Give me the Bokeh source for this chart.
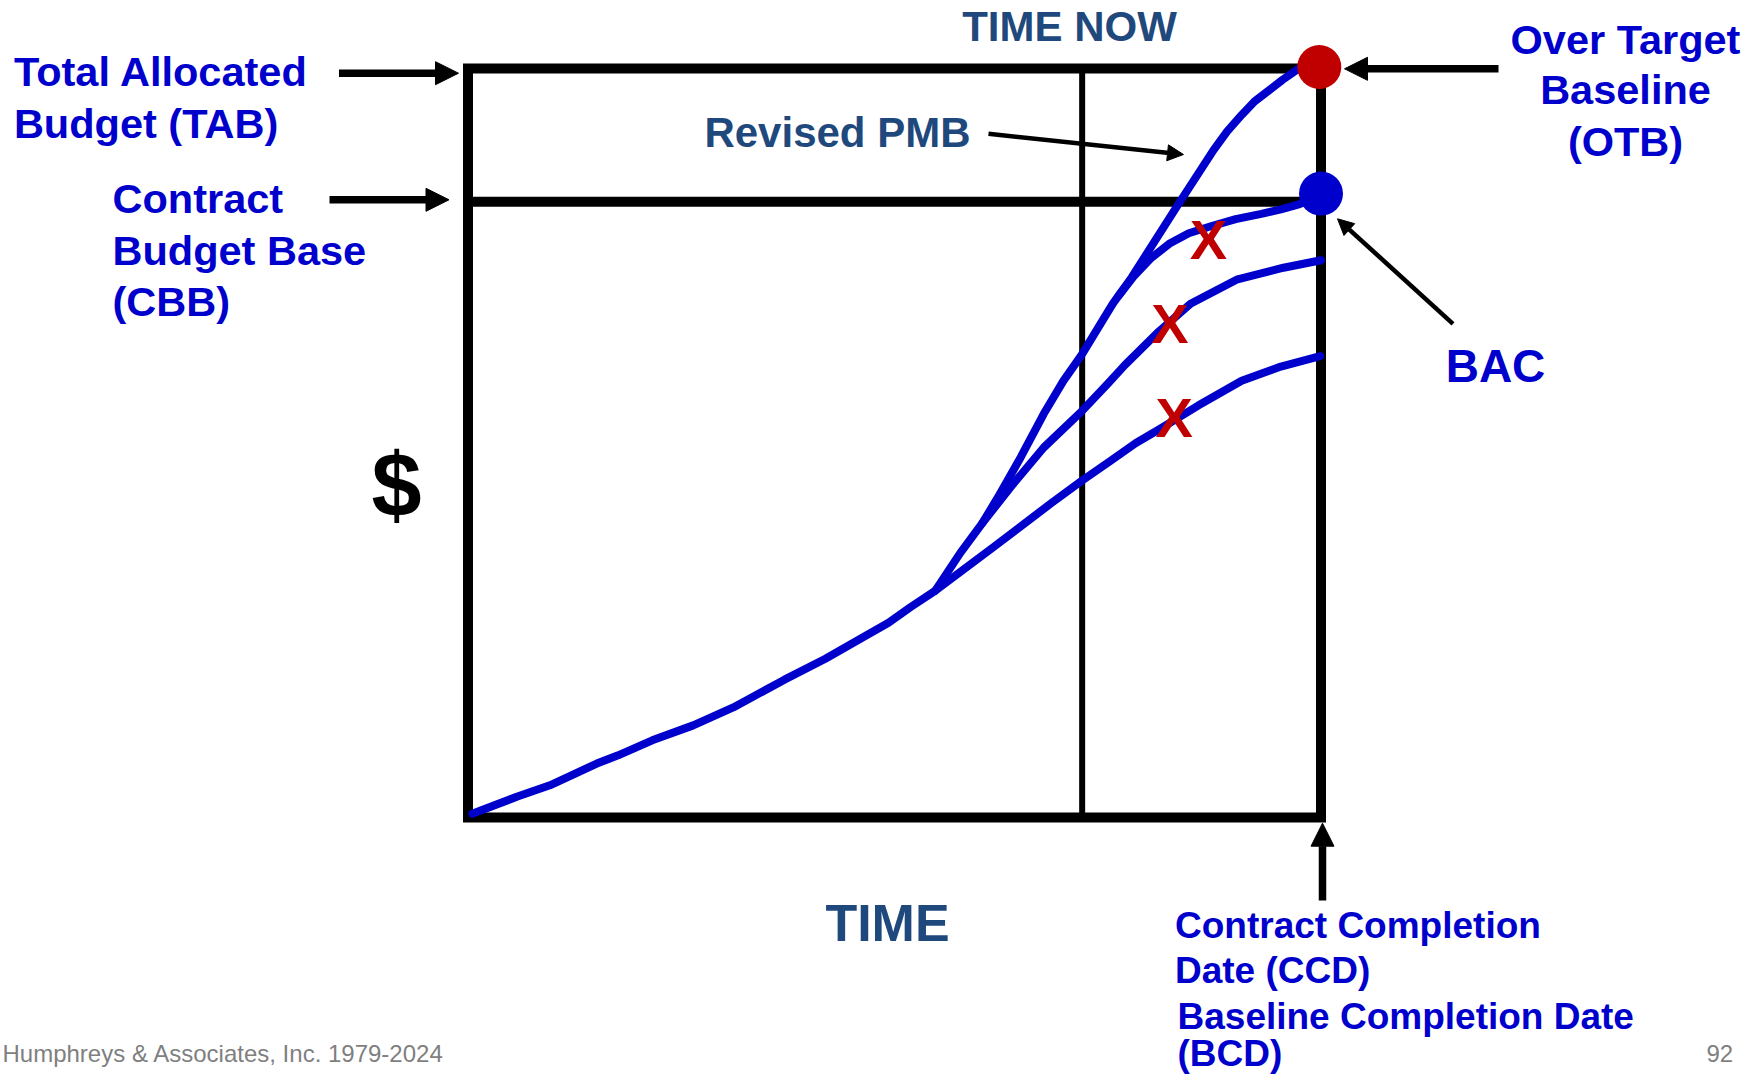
from bokeh.plotting import figure
from bokeh.models import Range1d, Arrow, NormalHead
from bokeh.core.properties import value
from bokeh.embed import file_html
from bokeh.resources import INLINE

# ---------------- data (time and $ as % of contract period / TAB) ----------------
pmb_time = [0.5, 5.8, 9.6, 15.1, 17.6, 21.6, 26.4, 31.1, 37.1, 41.9, 45.9, 49.3, 51.9,
            54.8, 61.6, 68.3, 72.0, 75.3, 78.3, 81.0, 85.6, 90.7, 95.3, 99.9]
pmb_value = [0.5, 2.8, 4.3, 7.2, 8.3, 10.3, 12.3, 14.7, 18.4, 21.2, 23.8, 26.0, 28.1,
             30.3, 36.1, 41.9, 45.0, 47.6, 50.0, 51.8, 55.0, 58.3, 60.2, 61.6]

rev_time = [54.8, 57.7, 60.3, 62.1, 64.8, 67.5, 69.8, 71.9, 75.6, 77.8, 83.0, 87.4,
            89.0, 90.7, 92.2, 93.8, 95.5, 97.4]
rev_value = [30.3, 35.3, 39.3, 42.7, 48.1, 53.9, 58.3, 61.7, 68.6, 72.1, 81.4, 89.1,
             91.6, 93.8, 95.6, 97.0, 98.5, 100.0]

mid_time = [60.3, 63.6, 67.5, 72.0, 75.0, 77.0, 81.0, 84.7, 90.1, 95.6, 100.0]
mid_value = [39.3, 44.1, 49.4, 54.3, 57.9, 60.4, 64.9, 68.6, 71.8, 73.4, 74.4]

bac_time = [76.3, 78.0, 80.0, 82.2, 84.5, 87.0, 90.0, 93.0, 95.3, 97.5, 99.8]
bac_value = [69.7, 72.2, 74.6, 76.6, 78.0, 78.9, 79.9, 80.6, 81.2, 81.9, 83.0]

eac_time = [86.8, 82.3, 82.8]
eac_value = [77.2, 66.0, 53.4]

tab_level = 100.0
cbb_level = 82.2
time_now = 72.0
ccd_time = 100.0
otb_point_time, otb_point_value = [99.8], [100.2]
bac_point_time, bac_point_value = [100.0], [83.3]

# ---------------- layout helpers (reference pixel -> data units) ----------------
PX0, PXS = 467.5, 8.53
PY0, PYS = 817.0, 7.49


def dx(px):
    return (px - PX0) / PXS


def dy(py):
    return (PY0 - py) / PYS


W, H = 1746, 1075
p = figure(width=W, height=H, output_backend="svg", toolbar_location=None,
           x_range=Range1d(dx(0), dx(W)), y_range=Range1d(dy(H), dy(0)),
           min_border=0, x_axis_location=None, y_axis_location=None)
p.grid.grid_line_color = None
p.outline_line_color = None
p.background_fill_color = "white"
p.border_fill_color = "white"

BLUE = "#0000CC"
NAVY = "#1F497D"
RED = "#C00000"
FONT = value("Liberation Sans")

# frame of the chart
p.quad(left=[0], right=[ccd_time], bottom=[0], top=[tab_level], fill_color=None,
       line_color="black", line_width=10, line_join="miter")
p.segment(x0=[time_now], y0=[0], x1=[time_now], y1=[tab_level],
          line_color="black", line_width=6)
p.segment(x0=[0], y0=[cbb_level], x1=[ccd_time], y1=[cbb_level],
          line_color="black", line_width=10)

# curves
for t, v in [(pmb_time, pmb_value), (rev_time, rev_value),
             (mid_time, mid_value), (bac_time, bac_value)]:
    p.line(t, v, line_color=BLUE, line_width=8, line_cap="round", line_join="round")

p.scatter(otb_point_time, otb_point_value, size=44, fill_color=RED, line_color=None)
p.scatter(bac_point_time, bac_point_value, size=44, fill_color=BLUE, line_color=None)

p.text(x=eac_time, y=eac_value, text=["X"] * len(eac_time), text_align="center",
       text_baseline="middle", text_font=FONT, text_font_style="bold",
       text_font_size="56px", text_color=RED)


def label(lines, px, pys, size, color, align="left", style="bold", baseline="middle"):
    p.text(x=[dx(px)] * len(lines), y=[dy(v) for v in pys], text=lines,
           text_align=align, text_baseline=baseline, text_font=FONT,
           text_font_style=style, text_font_size=size, text_color=color)


label(["Total Allocated", "Budget (TAB)"], 13.4, [71.3, 123.0], "41.5px", BLUE)
label(["Contract", "Budget Base", "(CBB)"], 112, [197.7, 249.5, 300.8], "41.5px", BLUE)
label(["TIME NOW"], 1069, [26], "42px", NAVY, align="center")
label(["Revised PMB"], 970, [131.6], "42px", NAVY, align="right")
label(["Over Target", "Baseline", "(OTB)"], 1625, [39, 89, 141], "41.5px", BLUE, align="center")
label(["BAC"], 1495, [365.7], "46px", BLUE, align="center")
label(["$"], 396, [484], "90px", "black", align="center")
label(["TIME"], 887, [922.5], "52px", NAVY, align="center")
label(["Contract Completion", "Date (CCD)"], 1174.5, [925, 970], "37px", BLUE)
label(["Baseline Completion Date", "(BCD)"], 1177, [1016, 1053], "37px", BLUE)
label(["Humphreys & Associates, Inc. 1979-2024"], 2, [1053], "24px", "#7F7F7F",
      style="normal", baseline="alphabetic")
label(["92"], 1706, [1053], "24px", "#7F7F7F", style="normal", baseline="alphabetic")


def arrow(x0, y0, x1, y1, width, head):
    p.add_layout(Arrow(end=NormalHead(size=head, fill_color="black", line_color="black",
                                      line_width=1),
                       x_start=dx(x0), y_start=dy(y0), x_end=dx(x1), y_end=dy(y1),
                       line_width=width, line_color="black"))


arrow(338.5, 72.7, 458, 72.7, 7.5, 23)
arrow(329, 199.3, 448.5, 199.3, 7.5, 23)
arrow(1498, 68.3, 1344, 68.3, 7.5, 23)
arrow(988, 133.3, 1183, 154, 4.5, 16)
arrow(1452.5, 323.3, 1337, 218.3, 4.5, 16)
arrow(1322, 900, 1322, 822.7, 7.5, 23)

open("out.html", "w").write(file_html(p, INLINE))
